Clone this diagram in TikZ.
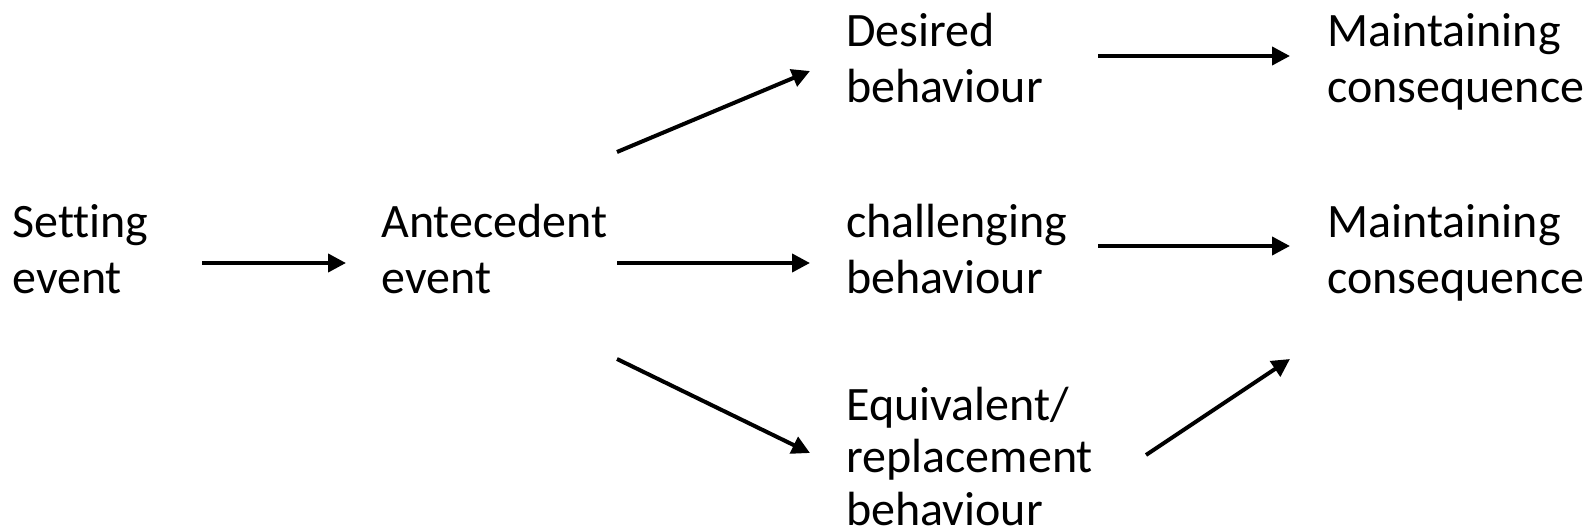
\documentclass[tikz,border=0pt]{standalone}
\usepackage{fontspec}
\setmainfont{Carlito}[Ligatures=NoCommon]
\usetikzlibrary{arrows.meta}
\tikzset{
  lbl/.style={anchor=base west, align=left, inner sep=0pt, font=\fontsize{24}{27.75}\selectfont},
  lbltight/.style={lbl, font=\fontsize{24}{26.25}\selectfont},
  arr/.style={line width=2pt, -{Triangle[length=9pt,width=9pt]}}
}
\begin{document}
\begin{tikzpicture}[x=0.5pt,y=-0.5pt]
\useasboundingbox (0,0) rectangle (1587,530);

\node[lbl] (setting) at (12,293) {Setting\\event};
\node[lbl] (antecedent) at (381,293) {Antecedent\\event};
\node[lbl] (desired) at (846,102) {Desired\\behaviour};
\node[lbl] (challenging) at (846,293) {challenging\\behaviour};
\node[lbltight] (replacement) at (846,525) {Equivalent/\\replacement\\behaviour};
\node[lbl] (maintainA) at (1327,102) {Maintaining\\consequence};
\node[lbl] (maintainB) at (1327,293) {Maintaining\\consequence};

\draw[arr] ([shift={(190,-30)}]setting.base west) -- ([shift={(-35,-30)}]antecedent.base west);
\draw[arr] ([shift={(236,-30)}]antecedent.base west) -- ([shift={(-36,-30)}]challenging.base west);
\draw[arr] ([shift={(236,-141)}]antecedent.base west) -- ([shift={(-36,-31)}]desired.base west);
\draw[arr] ([shift={(236,66)}]antecedent.base west) -- ([shift={(-36,-72)}]replacement.base west);
\draw[arr] ([shift={(252,-46)}]desired.base west) -- ([shift={(-37,-46)}]maintainA.base west);
\draw[arr] ([shift={(252,-47)}]challenging.base west) -- ([shift={(-37,-47)}]maintainB.base west);
\draw[arr] ([shift={(300,-70)}]replacement.base west) -- ([shift={(-37,66)}]maintainB.base west);
\end{tikzpicture}
\end{document}
